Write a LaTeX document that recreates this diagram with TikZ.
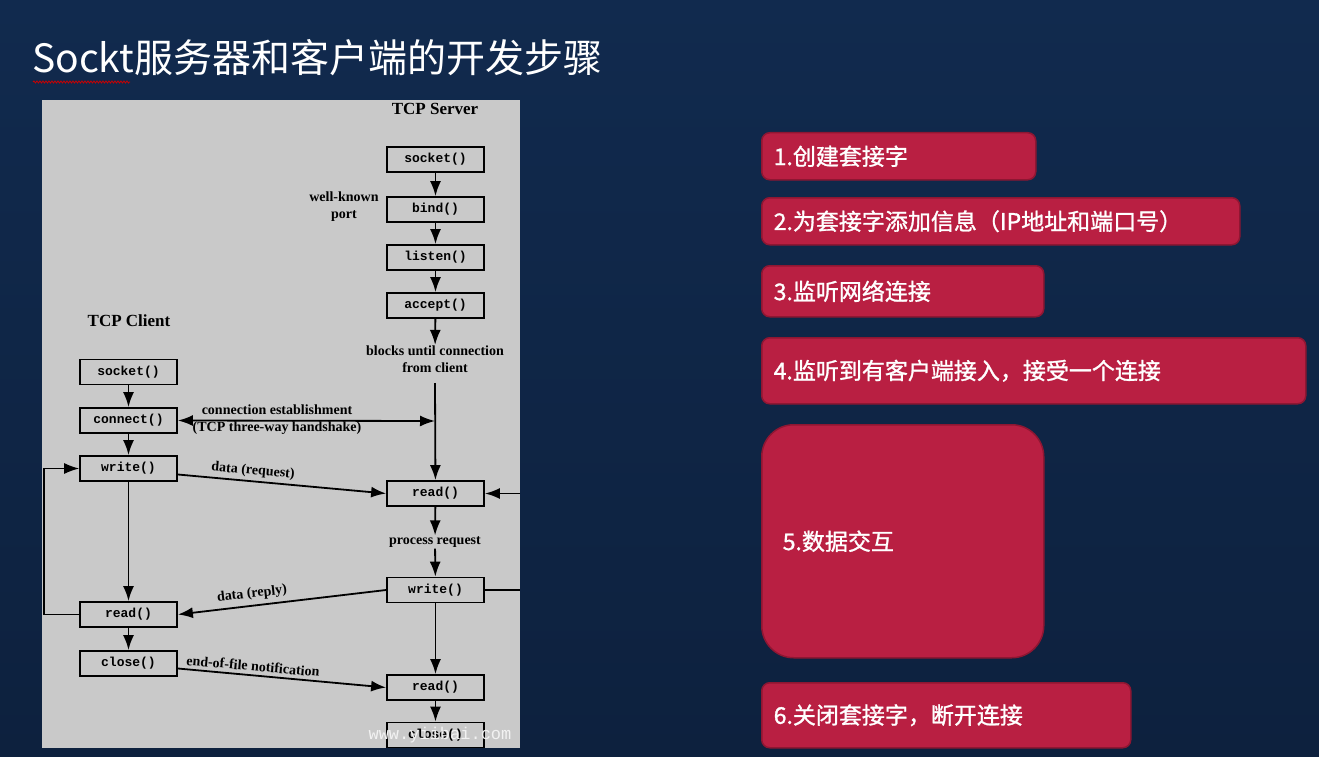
\documentclass[tikz,border=0pt]{standalone}
\usepackage{fontspec}
\setmainfont{Liberation Serif}
\setmonofont{Liberation Mono}
\newfontfamily\cjk{Noto Sans CJK SC}
\newfontfamily\cjkstep[FakeBold=1.2]{Noto Sans CJK SC}
\usetikzlibrary{arrows.meta,decorations.pathmorphing}

\definecolor{navytop}{RGB}{17,42,78}
\definecolor{navybot}{RGB}{13,33,62}
\definecolor{panelgray}{RGB}{201,201,201}
\definecolor{stepred}{RGB}{185,31,66}
\definecolor{stepedge}{RGB}{142,22,50}

\tikzset{
  fnbox/.style={draw=black, line width=1.8pt, fill=panelgray, minimum width=97pt, minimum height=25pt, inner sep=0pt, font=\ttfamily\bfseries\fontsize{13}{13}\selectfont},
  lbl/.style={font=\bfseries\fontsize{14}{17}\selectfont, align=center, inner sep=1pt},
  side/.style={font=\bfseries\fontsize{17}{17}\selectfont},
  flow/.style={-{Latex[length=15pt,width=11pt]}, line width=1.8pt},
  stepbox/.style={draw=stepedge, line width=1.5pt, fill=stepred, rounded corners=8pt, text=white, anchor=north west, inner xsep=12pt, align=left, font=\cjkstep\fontsize{23}{24}\selectfont}
}

\begin{document}
\begin{tikzpicture}[x=1pt, y=-1pt]
            \useasboundingbox (0,0) rectangle (1319,757);
            \shade[top color=navytop, bottom color=navybot] (0,0) rectangle (1319,757);

            \node[anchor=west, text=white, inner sep=0pt, font=\cjk\fontsize{39}{39}\selectfont] (title) at (32,58) {Sockt服务器和客户端的开发步骤};
            \draw[red!80!black, line width=0.8pt, decorate, decoration={snake, amplitude=1pt, segment length=3pt}] (33,82) -- (130,82);

            % left picture
            \fill[panelgray] (42,100) rectangle (520,748);
            \begin{scope}
            \clip (42,100) rectangle (520,748);
            \node[side] (srvtitle) at (435,109) {TCP Server};
            \node[side] (clititle) at (129,321) {TCP Client};

            \node[fnbox] (ssock) at (435.5,159.5) {socket()};
            \node[fnbox] (sbind) at (435.5,209.5) {bind()};
            \node[fnbox] (slisten) at (435.5,257.5) {listen()};
            \node[fnbox] (saccept) at (435.5,305.5) {accept()};
            \node[fnbox] (sread) at (435.5,493.5) {read()};
            \node[fnbox] (swrite) at (435.5,590) {write()};
            \node[fnbox] (sread2) at (435.5,687.5) {read()};
            \node[fnbox] (sclose) at (435.5,735) {close()};

            \node[fnbox] (csock) at (128.5,372) {socket()};
            \node[fnbox] (cconn) at (128.5,420.5) {connect()};
            \node[fnbox] (cwrite) at (128.5,468.5) {write()};
            \node[fnbox] (cread) at (128.5,614.5) {read()};
            \node[fnbox] (cclose) at (128.5,663.5) {close()};

            \node[lbl] (port) at (344,207) {well-known\\port};
            \node[lbl] (blocks) at (435,359.5) {blocks until connection\\from client};
            \node[lbl] (process) at (435,542) {process request};
            \node[lbl] (handshake) at (277,419.5) {connection establishment\\(TCP three-way handshake)};
            \node[lbl, rotate=-5] (request) at (253,471) {data (request)};
            \node[lbl, rotate=6.5] (reply) at (252,594) {data (reply)};
            \node[lbl, rotate=-5] (eof) at (253,666) {end-of-file notification};

            \coordinate (blockend) at (435,383);
            \coordinate (hs) at (435,421);
            \coordinate (loopin) at (520,493.5);
            \coordinate (loopout) at (520,590);
            \coordinate (lloop) at (44,540);

            \draw[flow] (ssock) -- (sbind);
            \draw[flow] (sbind) -- (slisten);
            \draw[flow] (slisten) -- (saccept);
            \draw[flow] (saccept) -- (blocks);
            \draw[flow] (blockend) -- (sread);
            \draw[flow] (sread) -- (process);
            \draw[flow] (process) -- (swrite);
            \draw[flow] (swrite) -- (sread2);
            \draw[flow] (sread2) -- (sclose);
            \draw[flow] (loopin) -- (sread.east);
            \draw[line width=1.2pt] (swrite.east) -- (loopout);

            \draw[flow] (csock) -- (cconn);
            \draw[flow] (cconn) -- (cwrite);
            \draw[flow] (cwrite) -- (cread);
            \draw[flow] (cread) -- (cclose);
            \draw[flow, line width=1.2pt] (cread.west) -| (lloop) |- (cwrite.west);

            \draw[{Latex[length=15pt,width=11pt]}-{Latex[length=15pt,width=11pt]}, line width=1.8pt] (cconn.east) -- (hs);
            \draw[flow] ([yshift=-6pt]cwrite.east) -- (sread.west);
            \draw[flow] (swrite.west) -- (cread.east);
            \draw[flow] ([yshift=-5pt]cclose.east) -- (sread2.west);

            \node[text=white!90!gray, font=\ttfamily\fontsize{17}{17}\selectfont] (mark) at (440,735) {www.yiibai.com};
            \end{scope}

            % steps
            \node[stepbox, text width=250pt, minimum height=47pt] (step1) at (761,132) {1.创建套接字};
            \node[stepbox, text width=454pt, minimum height=47pt] (step2) at (761,197) {2.为套接字添加信息（IP地址和端口号）};
            \node[stepbox, text width=258pt, minimum height=51pt] (step3) at (761,265) {3.监听网络连接};
            \node[stepbox, text width=520pt, minimum height=66pt] (step4) at (761,337) {4.监听到有客户端接入，接受一个连接};
            \node[stepbox, inner xsep=21pt, text width=240pt, minimum height=233pt, rounded corners=32pt] (step5) at (761,424) {5.数据交互};
            \node[stepbox, text width=345pt, minimum height=65pt] (step6) at (761,682) {6.关闭套接字，断开连接};
\end{tikzpicture}
\end{document}
